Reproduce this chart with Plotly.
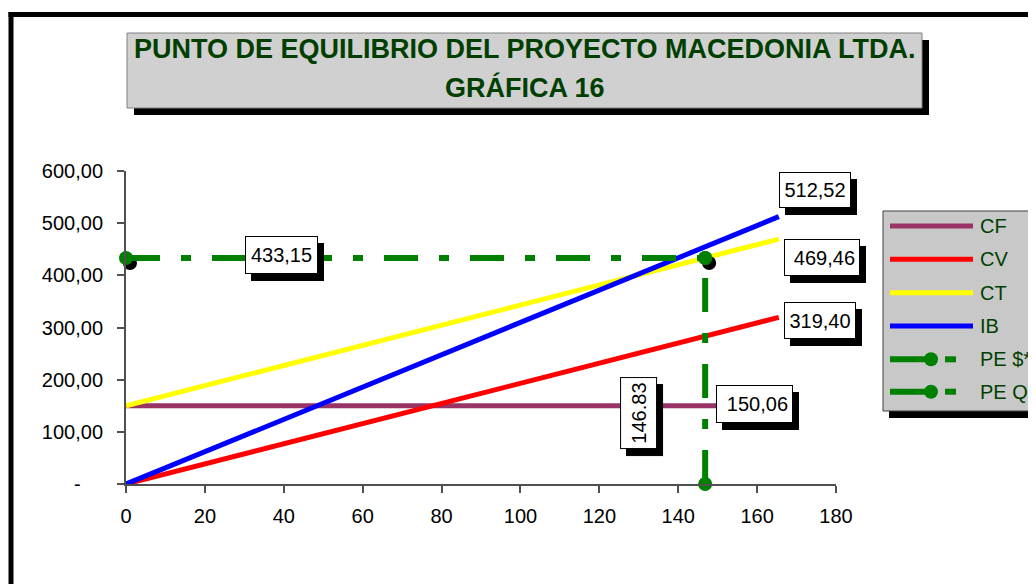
import plotly.graph_objects as go

# ---------------- data ----------------
x_pts = [0, 165.5]
cf_vals = [150.06, 150.06]
cv_vals = [0, 319.40]
ct_vals = [150.06, 469.46]
ib_vals = [0, 512.52]
pe_q = 146.83
pe_s = 433.15

series_names = ["CF", "CV", "CT", "IB", "PE $*", "PE Q*"]
x_ticks = [0, 20, 40, 60, 80, 100, 120, 140, 160, 180]
y_ticks = [0, 100, 200, 300, 400, 500, 600]

title_line1 = "PUNTO DE EQUILIBRIO DEL PROYECTO MACEDONIA LTDA."
title_line2 = "GRÁFICA 16"

# ---------------- style ----------------
OFF = 8  # page body margin
W, H = 1036 - OFF, 584 - OFF
PX0, PX1, PY0, PY1 = 126, 836, 171, 484  # plot area in window pixels
ML, MR, MT, MB = PX0 - OFF, W - (PX1 - OFF), PY0 - OFF, H - (PY1 - OFF)
PW, PH = PX1 - PX0, PY1 - PY0
FONT = "Arial, 'Liberation Sans', sans-serif"
GREEN = "#008000"
DKGREEN = "#003f00"
colors = {"CF": "#993366", "CV": "#ff0000", "CT": "#ffff00", "IB": "#0000ff"}
DASH = "34px,21px,10px,21px"


def fx(px):
    return (px - PX0) / PW


def fy(py):
    return (PY1 - py) / PH


def es(v):
    return f"{v:,.2f}".replace(",", "X").replace(".", ",").replace("X", ".")


# pixel -> data offsets for marker shadows
dx = 4 * 180 / PW
dy = -5 * 600 / PH

fig = go.Figure()

for name, vals in zip(["CF", "CV", "CT", "IB"], [cf_vals, cv_vals, ct_vals, ib_vals]):
    fig.add_trace(go.Scatter(x=x_pts, y=vals, mode="lines", name=name,
                             line=dict(color=colors[name], width=5),
                             showlegend=False, cliponaxis=False))

# marker shadows
fig.add_trace(go.Scatter(x=[0 + dx, pe_q + dx, pe_q + dx], y=[pe_s + dy, pe_s + dy, 0 + dy],
                         mode="markers", marker=dict(color="black", size=14),
                         showlegend=False, cliponaxis=False, hoverinfo="skip"))

fig.add_trace(go.Scatter(x=[0, pe_q], y=[pe_s, pe_s], mode="lines+markers", name="PE $*",
                         line=dict(color=GREEN, width=6, dash=DASH),
                         marker=dict(color=GREEN, size=14),
                         showlegend=False, cliponaxis=False))
fig.add_trace(go.Scatter(x=[pe_q, pe_q], y=[0, pe_s], mode="lines+markers", name="PE Q*",
                         line=dict(color=GREEN, width=6, dash=DASH),
                         marker=dict(color=GREEN, size=14),
                         showlegend=False, cliponaxis=False))

# ---------------- data labels (with drop shadows) ----------------
# (x, y, text, xshift, yshift, angle, box text width, box text height, align)
labels = [
    (x_pts[1], ib_vals[1], es(ib_vals[1]), 36, 26.6, 0, 62, 26, "center"),
    (x_pts[1], ct_vals[1], es(ct_vals[1]), 43, -18, 0, 66, 27, "right"),
    (x_pts[1], cv_vals[1], es(cv_vals[1]), 41.5, -3.6, 0, 62, 27, "center"),
    (x_pts[1], cf_vals[1], es(cf_vals[1]), -24.3, 2.2, 0, 67, 28, "right"),
    (0, pe_s, es(pe_s), 155.5, 3, 0, 63, 28, "center"),
    (pe_q, 0, f"{pe_q:.2f}", -66.6, 70.5, -90, 62, 27, "center"),
]
for (xv, yv, txt, xs, ys, ang, bw, bh, al) in labels:
    for shadow in (True, False):
        fig.add_annotation(
            x=xv, y=yv, xref="x", yref="y", text=txt, showarrow=False,
            xanchor="center", yanchor="middle", textangle=ang,
            width=bw, height=bh, align=al, valign="middle",
            xshift=xs + (6 if shadow else 0), yshift=ys - (7 if shadow else 0),
            font=dict(family=FONT, size=20, color="black"),
            bgcolor="black" if shadow else "white",
            bordercolor="black", borderwidth=1, borderpad=4,
        )

shapes = []
# outer frame
shapes.append(dict(type="line", xref="paper", yref="paper", x0=fx(11), x1=fx(11), y0=fy(12), y1=fy(600),
                   line=dict(color="black", width=5)))
shapes.append(dict(type="line", xref="paper", yref="paper", x0=fx(8.5), x1=fx(1040), y0=fy(14.5), y1=fy(14.5),
                   line=dict(color="black", width=5)))
# title box
shapes.append(dict(type="rect", xref="paper", yref="paper", x0=fx(134), x1=fx(929), y0=fy(40), y1=fy(115),
                   fillcolor="black", line=dict(width=0)))
shapes.append(dict(type="rect", xref="paper", yref="paper", x0=fx(127), x1=fx(922), y0=fy(33), y1=fy(108),
                   fillcolor="#d0d0d0", line=dict(color="#808080", width=1)))
# legend box
shapes.append(dict(type="rect", xref="paper", yref="paper", x0=fx(889), x1=fx(1045), y0=fy(217), y1=fy(418),
                   fillcolor="black", line=dict(width=0)))
shapes.append(dict(type="rect", xref="paper", yref="paper", x0=fx(883), x1=fx(1045), y0=fy(211), y1=fy(411),
                   fillcolor="#c8c8c8", line=dict(color="#404040", width=1)))

legend_y = [226, 259.3, 292.7, 326, 359.3, 391.7]
for name, ly in zip(series_names, legend_y):
    if name in colors:
        shapes.append(dict(type="line", xref="paper", yref="paper", x0=fx(890), x1=fx(973), y0=fy(ly), y1=fy(ly),
                           line=dict(color=colors[name], width=5)))
    else:
        shapes.append(dict(type="line", xref="paper", yref="paper", x0=fx(890), x1=fx(930), y0=fy(ly), y1=fy(ly),
                           line=dict(color=GREEN, width=6)))
        shapes.append(dict(type="line", xref="paper", yref="paper", x0=fx(945), x1=fx(956), y0=fy(ly), y1=fy(ly),
                           line=dict(color=GREEN, width=6)))
        shapes.append(dict(type="circle", xref="paper", yref="paper", x0=fx(924), x1=fx(938), y0=fy(ly - 7), y1=fy(ly + 7),
                           fillcolor=GREEN, line=dict(width=0)))
    fig.add_annotation(x=fx(978), y=fy(ly), xref="paper", yref="paper", text=name, showarrow=False,
                       xanchor="left", yanchor="middle",
                       font=dict(family=FONT, size=20, color=DKGREEN))

# title
fig.add_annotation(x=fx(525), y=fy(49), xref="paper", yref="paper", text=f"<b>{title_line1}</b>",
                   showarrow=False, xanchor="center", yanchor="middle",
                   font=dict(family=FONT, size=27, color=DKGREEN))
fig.add_annotation(x=fx(525), y=fy(87), xref="paper", yref="paper", text=f"<b>{title_line2}</b>",
                   showarrow=False, xanchor="center", yanchor="middle",
                   font=dict(family=FONT, size=27, color=DKGREEN))

y_text = ["-\u00a0\u00a0\u00a0\u00a0" if v == 0 else es(v) for v in y_ticks]

fig.update_layout(
    width=W, height=H,
    margin=dict(l=ML, r=MR, t=MT, b=MB, pad=0),
    paper_bgcolor="white", plot_bgcolor="white",
    shapes=shapes,
    showlegend=False,
    xaxis=dict(range=[0, 180], tickvals=x_ticks, ticktext=[str(v) for v in x_ticks],
               showgrid=False, zeroline=False, showline=True, linecolor="#505050", linewidth=2,
               ticks="outside", ticklen=7, tickwidth=1.5, tickcolor="#505050",
               ticklabelstandoff=6,
               tickfont=dict(family=FONT, size=20, color="black"), fixedrange=True),
    yaxis=dict(range=[0, 600], tickvals=y_ticks, ticktext=y_text,
               showgrid=False, zeroline=False, showline=True, linecolor="#505050", linewidth=2,
               ticks="outside", ticklen=7, tickwidth=1.5, tickcolor="#505050",
               ticklabelstandoff=10,
               tickfont=dict(family=FONT, size=20, color="black"), fixedrange=True),
)

fig.write_html("out.html")
